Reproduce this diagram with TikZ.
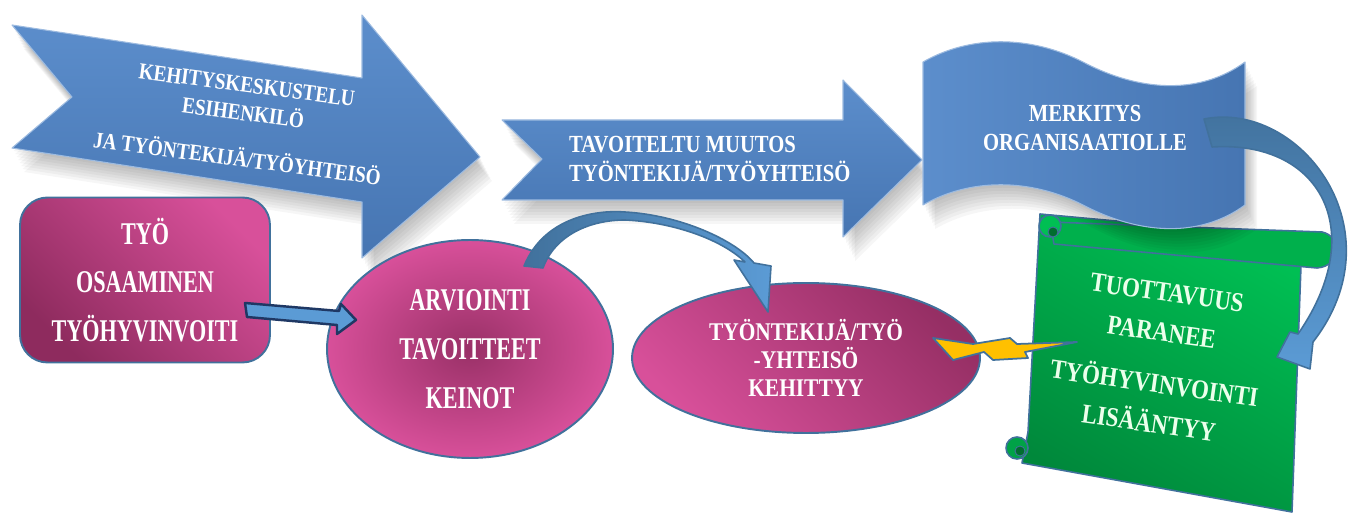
\documentclass[tikz,border=0pt]{standalone}
\usepackage{fontspec}
\usetikzlibrary{shapes.geometric}
\newfontfamily\bluefont{Liberation Serif}[FakeStretch=0.84]
\newfontfamily\pinkfont{Liberation Serif}[FakeStretch=0.70]
\definecolor{edge}{HTML}{41719C}
\definecolor{bluelite}{HTML}{5C8ECC}
\definecolor{bluedark}{HTML}{4675B2}
\definecolor{pinklite}{HTML}{D8509A}
\definecolor{pinkdark}{HTML}{8E2B5E}
\definecolor{greenlite}{HTML}{00BF53}
\definecolor{greendark}{HTML}{00883B}
\definecolor{boltfill}{HTML}{FFC000}
\definecolor{navy}{HTML}{1F3864}
\definecolor{curvelite}{HTML}{5B9BD5}
\definecolor{curvedark}{HTML}{41719C}

\tikzset{
  blueedge/.style={draw=bluelite!60!white, line width=0.6pt},
  bluebody/.style={blueedge, top color=bluelite, bottom color=bluedark},
  curveedge/.style={draw=edge, line width=0.9pt},
  softshade/.style={black, opacity=0.035},
  pinkbox/.style={draw=edge, line width=1.1pt, text=white, align=center,
    font=\pinkfont\bfseries\fontsize{18}{27.8}\selectfont},
  bluetxt/.style={text=white, align=center, font=\bluefont\bfseries\fontsize{14}{16.5}\selectfont},
  % outlines of the blue shapes
  arrowone/.style={insert path={(12,25) -- (362,78) -- (362,15) -- (480,157) -- (362,258)
        -- (362,202) -- (12,148) -- (72,97) -- cycle}},
  arrowtwo/.style={insert path={(502,120) -- (843,120) -- (843,80) -- (922,160) -- (843,237)
        -- (843,200) -- (502,200) -- (542,159) -- cycle}},
  banner/.style={insert path={(923,62) .. controls (970,35) and (1030,35) .. (1083,62)
        .. controls (1140,92) and (1200,95) .. (1245,62) -- (1245,205)
        .. controls (1200,238) and (1140,235) .. (1083,205)
        .. controls (1030,178) and (970,178) .. (923,205) -- cycle}},
}

\begin{document}
\begin{tikzpicture}[x=0.02cm, y=-0.02cm, line join=round]
    \useasboundingbox (0,0) rectangle (1359,516);

    % soft shadows
    \foreach \k in {1,...,8}{
        \fill[softshade, shift={(1.5*\k,3*\k)}, arrowone];
        \fill[softshade, shift={(1.5*\k,3*\k)}, arrowtwo];
    }

    % blue arrows
    \draw[bluebody, arrowone];
    \draw[bluebody, arrowtwo];

    \node[bluetxt, font=\bluefont\bfseries\fontsize{13}{16}\selectfont, rotate=-7.5] (kehitys) at (242,122)
        {KEHITYSKESKUSTELU\\ESIHENKILÖ\\[0.36cm]JA TYÖNTEKIJÄ/TYÖYHTEISÖ};
    \node[bluetxt, align=left, anchor=west] (muutos) at (563,159)
        {TAVOITELTU MUUTOS\\TYÖNTEKIJÄ/TYÖYHTEISÖ};

    % green scroll
    \draw[edge, line width=0.9pt, top color=greenlite, bottom color=greendark, shading angle=-30]
        (1040,214) -- (1302,238) -- (1292,512) -- (1022,463) -- (1028,432) -- cycle;
    \draw[edge, line width=0.9pt, fill=greenlite!92!black]
        (1050,222) -- (1322,232) .. controls (1342,236) and (1342,266) .. (1317,268)
        -- (1054,244) -- cycle;
    \draw[edge, line width=0.9pt, fill=greenlite] (1050,226) circle (11);
    \draw[edge, line width=0.5pt, fill=greendark!80!black] (1053,232) circle (5);
    \draw[edge, line width=0.9pt, fill=greenlite!85!black] (1017,448) circle (11);
    \draw[edge, line width=0.5pt, fill=greendark!80!black] (1020,451) circle (5);

    \node[bluetxt, text=white!92!green, font=\bluefont\bfseries\fontsize{15.5}{22.7}\selectfont, rotate=-8]
        (tuotto) at (1158,358) {TUOTTAVUUS\\PARANEE\\[0.24cm]TYÖHYVINVOINTI\\LISÄÄNTYY};

    % wave banner
    \foreach \k in {1,...,8}
        \fill[softshade, shift={(1.5*\k,3*\k)}, banner];
    \draw[blueedge, left color=bluelite, right color=bluedark, banner];
    \node[bluetxt] (merkitys) at (1085,128) {MERKITYS\\ORGANISAATIOLLE};

    % pink shapes
    \node[pinkbox, rounded corners=0.55cm, minimum width=5cm, minimum height=3.3cm,
        top color=pinklite, bottom color=pinkdark, shading angle=-45]
        (tyo) at (145,280) {TYÖ\\OSAAMINEN\\TYÖHYVINVOITI};
    \node[pinkbox, ellipse, minimum width=5.72cm, minimum height=4.36cm,
        inner color=pinkdark!85!pinklite, outer color=pinklite]
        (arvio) at (470,349) {ARVIOINTI\\TAVOITTEET\\KEINOT};
    \node[pinkbox, ellipse, minimum width=6.96cm, minimum height=3cm,
        font=\bluefont\bfseries\fontsize{14.5}{16}\selectfont,
        top color=pinkdark!90!pinklite, bottom color=pinklite, shading angle=-45]
        (kehittyy) at (806,358) {TYÖNTEKIJÄ/TYÖ\\-YHTEISÖ\\KEHITTYY};

    % connectors
    \draw[navy, line width=1.4pt, fill=curvelite] (245,303) -- (339,311) -- (341,304)
        -- (356,320) -- (337,334) -- (337,325) -- (247,317) -- cycle;
    \draw[curveedge, left color=curvedark, right color=curvelite]
        (524,266) .. controls (545,215) and (600,210) .. (625,212)
        .. controls (680,215) and (735,240) .. (754,263) -- (771,266) -- (768,312)
        -- (734,260) -- (745,262) .. controls (720,238) and (670,222) .. (625,220)
        .. controls (590,220) and (555,235) .. (543,268) -- cycle;
    \draw[curveedge, top color=curvedark, bottom color=curvelite]
        (1204,119) .. controls (1300,100) and (1400,230) .. (1313,342)
        -- (1310,369) -- (1277,357) -- (1290,332) -- (1298,334)
        .. controls (1370,230) and (1320,140) .. (1212,147) -- cycle;

    % lightning
    \draw[edge, line width=1pt, fill=boltfill] (933,338) -- (973,344) -- (1010,338)
        -- (1017,344) -- (1077,342) -- (1025,352) -- (1028,358) -- (993,360)
        -- (984,352) -- (953,360) -- cycle;
\end{tikzpicture}
\end{document}
